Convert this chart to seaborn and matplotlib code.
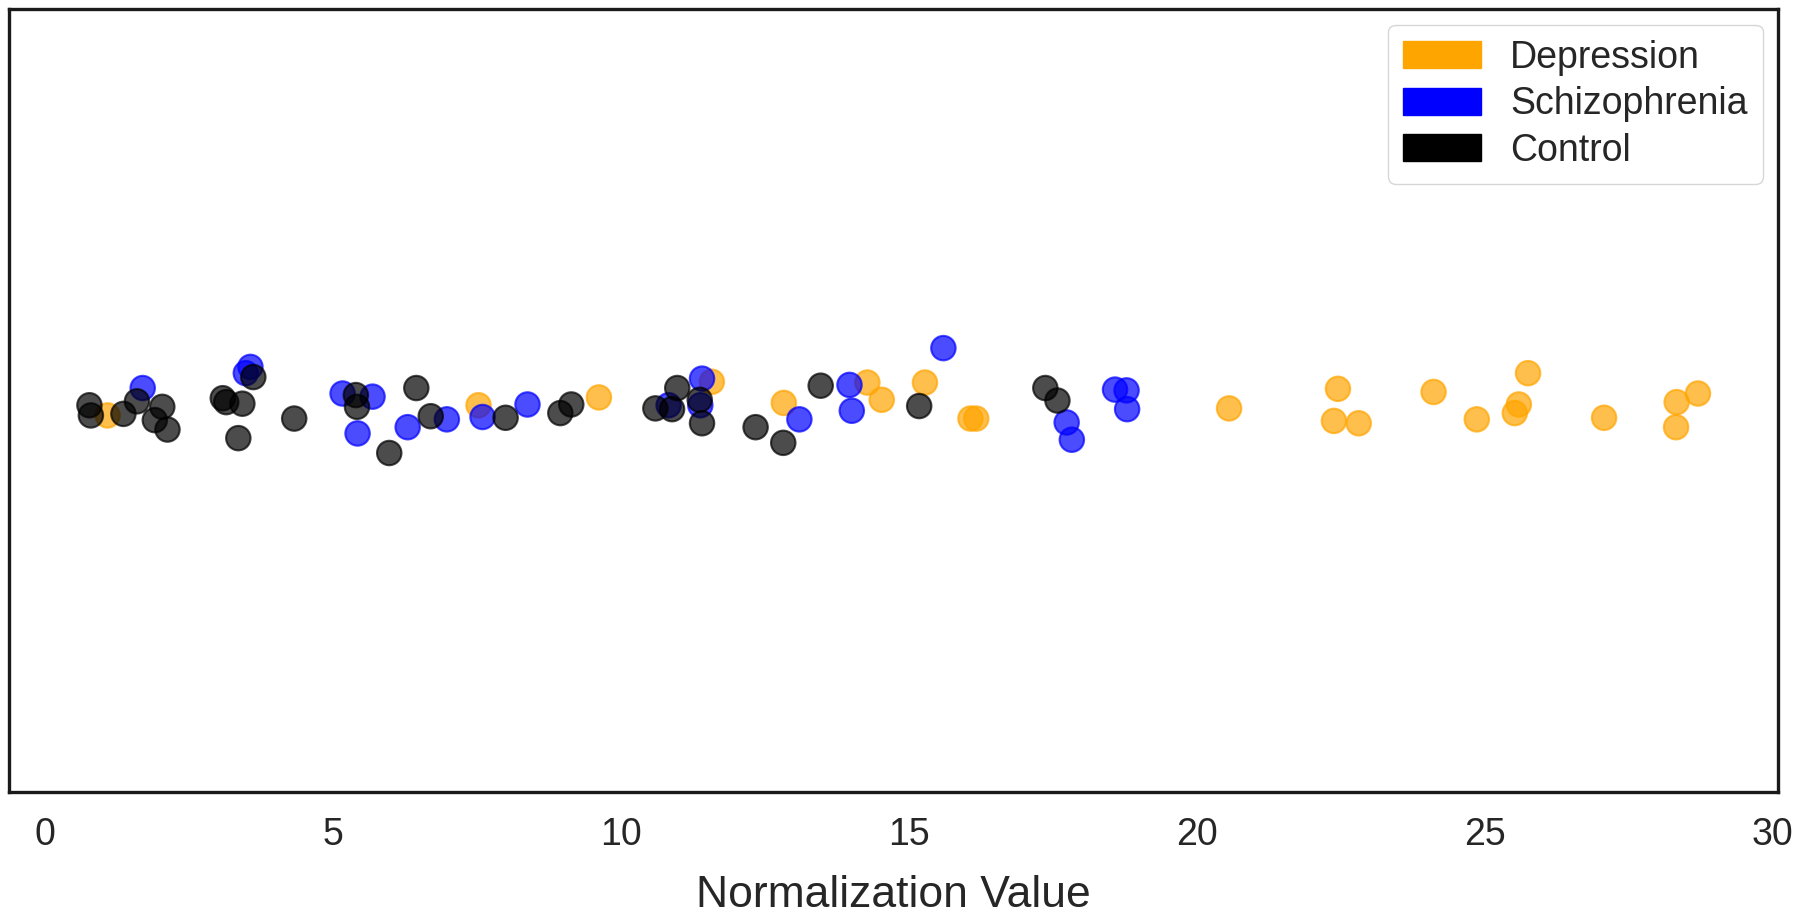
import numpy as np
import pandas as pd
import matplotlib
matplotlib.use("Agg")
import matplotlib.pyplot as plt
from matplotlib.patches import Patch
import seaborn as sns

groups = ["Depression", "Schizophrenia", "Control"]
palette = {"Depression": "orange", "Schizophrenia": "blue", "Control": "black"}

dep_values = [1.09, 7.53, 9.62, 11.58, 12.83, 14.28, 14.53, 15.28, 16.07, 16.17,
              20.56, 22.45, 22.38, 22.81, 24.11, 24.86, 25.75, 25.59, 25.52, 27.07,
              28.33, 28.70, 28.32]
dep_jitter = [-0.019, -0.006, 0.004, 0.024, -0.003, 0.023, 0.001, 0.023, -0.023, -0.023,
              -0.010, 0.015, -0.026, -0.029, 0.011, -0.024, 0.035, -0.005, -0.016, -0.022,
              -0.002, 0.009, -0.034]

scz_values = [1.70, 3.57, 3.49, 5.17, 5.69, 5.43, 6.30, 6.98, 7.60, 8.38,
              10.83, 11.41, 11.38, 13.10, 13.97, 14.01, 15.60, 17.74, 17.83, 18.58,
              18.78, 18.79]
scz_jitter = [0.016, 0.043, 0.035, 0.009, 0.005, -0.042, -0.034, -0.024, -0.021, -0.005,
              -0.006, 0.028, -0.006, -0.024, 0.020, -0.013, 0.067, -0.028, -0.050, 0.014,
              0.013, -0.011]

ctl_values = [0.775, 0.80, 1.365, 1.60, 2.04, 1.91, 2.13, 3.09, 3.15, 3.43,
              3.62, 3.36, 4.33, 5.40, 5.42, 5.98, 6.45, 6.70, 8.00, 8.95,
              9.14, 10.60, 10.89, 10.98, 11.37, 11.41, 12.34, 12.82, 13.47, 15.18,
              17.37, 17.58]
ctl_jitter = [-0.006, -0.019, -0.017, -0.001, -0.008, -0.025, -0.037, 0.003, -0.002, -0.004,
              0.030, -0.048, -0.023, 0.007, -0.008, -0.067, 0.016, -0.020, -0.022, -0.016,
              -0.005, -0.010, -0.011, 0.016, 0.001, -0.029, -0.034, -0.054, 0.019, -0.007,
              0.016, 0.000]

x_label = "Normalization Value"
x_ticks = [0, 5, 10, 15, 20, 25, 30]

df = pd.DataFrame({
    "value": dep_values + scz_values + ctl_values,
    "jitter": dep_jitter + scz_jitter + ctl_jitter,
    "group": (["Depression"] * len(dep_values) + ["Schizophrenia"] * len(scz_values)
              + ["Control"] * len(ctl_values)),
})

sns.set_theme(style="white")
plt.rcParams["font.family"] = ["Liberation Sans", "DejaVu Sans"]

fig = plt.figure(figsize=(18, 9.14), dpi=100)
ax = fig.add_axes([0.005, 0.1335, 0.983, 0.8565])

sns.scatterplot(data=df, x="value", y="jitter", hue="group", hue_order=groups,
                palette=palette, s=310, alpha=0.7, edgecolor="face", linewidth=1.5,
                legend=False, ax=ax)

ax.set_ylim(-0.5, 0.5)
ax.set_yticks([])
ax.set_ylabel("")
ax.set_xticks(x_ticks)
ax.set_xticklabels([str(t) for t in x_ticks])
ax.tick_params(axis="x", length=0, pad=18, labelsize=27, labelcolor="0.15")
ax.set_xlabel(x_label, fontsize=32, color="0.15", labelpad=16)

for sp in ax.spines.values():
    sp.set_color("0.1")
    sp.set_linewidth(2.4)

handles = [Patch(facecolor=palette[g], edgecolor=palette[g], label=g) for g in groups]
ax.legend(handles=handles, loc="upper right", fontsize=27, frameon=True,
          handlelength=2.08, handleheight=0.72, handletextpad=0.77,
          labelspacing=0.28, borderpad=0.4, borderaxespad=0.42)

fig.savefig("out.png", dpi=100)
